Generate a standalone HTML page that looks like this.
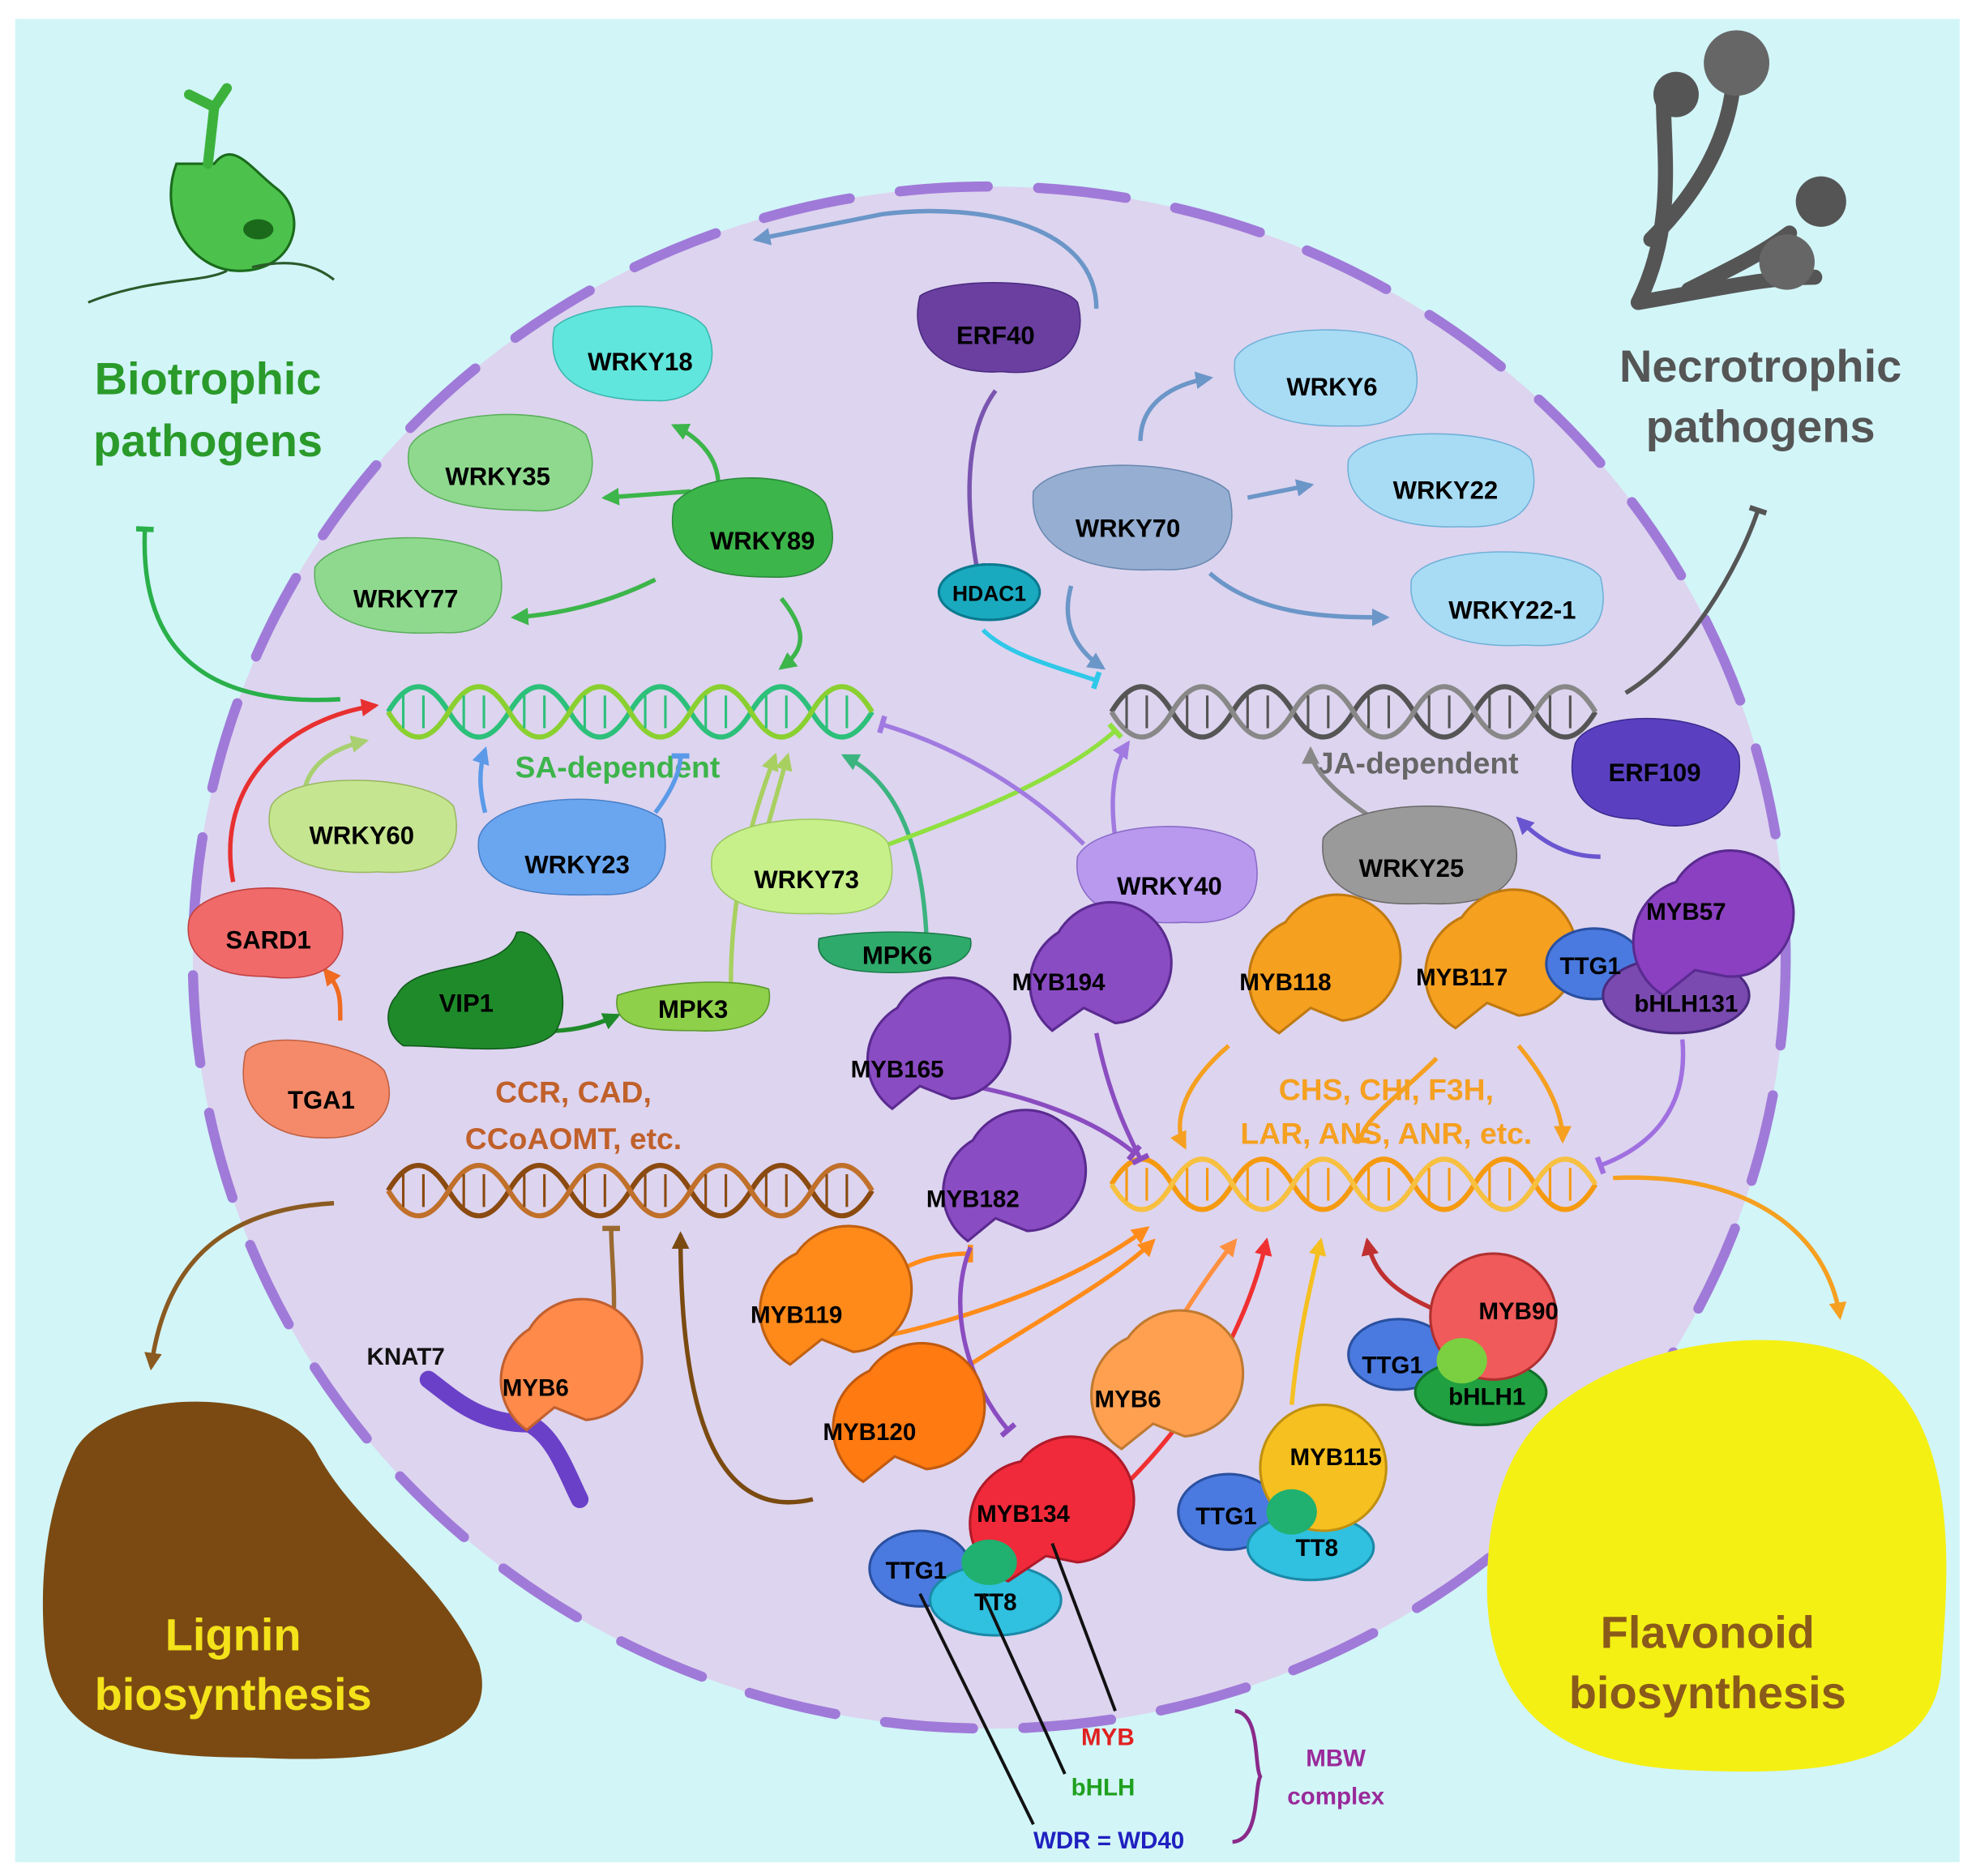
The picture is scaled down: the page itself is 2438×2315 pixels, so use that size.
<!DOCTYPE html>
<html><head><meta charset="utf-8"><style>
html,body{margin:0;padding:0;background:#fff}
svg{display:block}
text{font-family:"Liberation Sans",sans-serif;font-weight:bold}
</style></head><body>
<svg width="2438" height="2315" viewBox="0 0 1568 1489" preserveAspectRatio="none" xmlns="http://www.w3.org/2000/svg">
<defs>
<marker id="a" viewBox="0 0 10 10" refX="8" refY="5" markerWidth="4" markerHeight="4" orient="auto-start-reverse"><path d="M0,0L10,5L0,10z" fill="context-stroke"/></marker>
<marker id="t" viewBox="0 0 10 10" refX="5" refY="5" markerWidth="4" markerHeight="4" orient="auto"><path d="M5,0V10" stroke="context-stroke" stroke-width="3"/></marker>
</defs>
<rect x="0" y="0" width="1568" height="1489" fill="#fff"/>
<rect x="12" y="15" width="1543" height="1463" fill="#d2f5f8"/>
<ellipse cx="785" cy="760" rx="632" ry="612" fill="#ddd4ef"/>
<ellipse cx="785" cy="760" rx="632" ry="612" fill="none" stroke="#a07ad8" stroke-width="8" stroke-dasharray="70 40" stroke-linecap="round"/>

<!-- pathogens -->
<g fill="#4cc24c" stroke="#1b6a1b" stroke-width="2">
<path d="M140,130 C125,170 150,215 190,215 C235,215 245,170 220,150 C200,135 185,110 170,130 Z"/>
<path d="M165,130 L170,85 L150,75 M170,85 L180,70" fill="none" stroke="#3cb23c" stroke-width="8" stroke-linecap="round"/>
</g>
<ellipse cx="205" cy="182" rx="12" ry="8" fill="#1b6a1b"/>
<path d="M70,240 C120,220 160,225 180,215 M200,212 C230,205 250,210 265,222" fill="none" stroke="#2a5a2a" stroke-width="2"/>
<g stroke="#555" stroke-width="12" fill="none" stroke-linecap="round">
<path d="M1300,240 C1330,180 1320,120 1320,80"/>
<path d="M1310,190 C1350,150 1370,110 1375,70"/>
<path d="M1340,230 C1380,210 1400,200 1420,185"/>
<path d="M1300,240 C1360,230 1400,220 1440,220"/>
</g>
<circle cx="1330" cy="75" r="18" fill="#555"/><circle cx="1378" cy="50" r="26" fill="#666"/><circle cx="1418" cy="208" r="22" fill="#666"/><circle cx="1445" cy="160" r="20" fill="#555"/>
<text x="165" y="313" font-size="36" fill="#2a9a2a" text-anchor="middle">Biotrophic</text>
<text x="165" y="362" font-size="36" fill="#2a9a2a" text-anchor="middle">pathogens</text>
<text x="1397" y="303" font-size="36" fill="#555" text-anchor="middle">Necrotrophic</text>
<text x="1397" y="351" font-size="36" fill="#555" text-anchor="middle">pathogens</text>

<!-- output blobs -->
<path d="M60,1150 C90,1100 220,1100 250,1150 C280,1210 350,1250 380,1320 C400,1390 300,1400 200,1395 C100,1395 40,1380 35,1300 C30,1230 45,1180 60,1150Z" fill="#7a4a12"/>
<text x="185" y="1310" font-size="36" fill="#f4e21a" text-anchor="middle">Lignin</text>
<text x="185" y="1357" font-size="36" fill="#f4e21a" text-anchor="middle">biosynthesis</text>
<path d="M1230,1120 C1300,1060 1420,1050 1480,1080 C1560,1130 1545,1260 1540,1330 C1530,1400 1450,1410 1340,1405 C1220,1400 1180,1340 1180,1260 C1180,1200 1195,1150 1230,1120Z" fill="#f4f014"/>
<text x="1355" y="1308" font-size="36" fill="#8a5a1a" text-anchor="middle">Flavonoid</text>
<text x="1355" y="1356" font-size="36" fill="#8a5a1a" text-anchor="middle">biosynthesis</text>

<!-- DNA helper drawn inline -->
<g fill="none" stroke-width="4">
<g stroke="#2cc07a"><path d="M308,565 q24,-40 48,0 t48,0 t48,0 t48,0 t48,0 t48,0 t48,0 t48,0"/><path d="M308,565 q24,40 48,0 t48,0 t48,0 t48,0 t48,0 t48,0 t48,0 t48,0" stroke="#8ad030"/><path d="M320,552 V578 M336,552V578 M368,552V578 M384,552V578 M416,552V578 M432,552V578 M464,552V578 M480,552V578 M512,552V578 M528,552V578 M560,552V578 M576,552V578 M608,552V578 M624,552V578 M656,552V578 M672,552V578" stroke-width="2"/></g>
<g stroke="#555"><path d="M882,565 q24,-40 48,0 t48,0 t48,0 t48,0 t48,0 t48,0 t48,0 t48,0"/><path d="M882,565 q24,40 48,0 t48,0 t48,0 t48,0 t48,0 t48,0 t48,0 t48,0" stroke="#888"/><path d="M894,552V578 M910,552V578 M942,552V578 M958,552V578 M990,552V578 M1006,552V578 M1038,552V578 M1054,552V578 M1086,552V578 M1102,552V578 M1134,552V578 M1150,552V578 M1182,552V578 M1198,552V578 M1230,552V578 M1246,552V578" stroke-width="2"/></g>
<g stroke="#8a4a10"><path d="M308,945 q24,-40 48,0 t48,0 t48,0 t48,0 t48,0 t48,0 t48,0 t48,0"/><path d="M308,945 q24,40 48,0 t48,0 t48,0 t48,0 t48,0 t48,0 t48,0 t48,0" stroke="#c0702a"/><path d="M320,932V958 M336,932V958 M368,932V958 M384,932V958 M416,932V958 M432,932V958 M464,932V958 M480,932V958 M512,932V958 M528,932V958 M560,932V958 M576,932V958 M608,932V958 M624,932V958 M656,932V958 M672,932V958" stroke-width="2"/></g>
<g stroke="#f59a10"><path d="M882,940 q24,-40 48,0 t48,0 t48,0 t48,0 t48,0 t48,0 t48,0 t48,0"/><path d="M882,940 q24,40 48,0 t48,0 t48,0 t48,0 t48,0 t48,0 t48,0 t48,0" stroke="#f7c040"/><path d="M894,927V953 M910,927V953 M942,927V953 M958,927V953 M990,927V953 M1006,927V953 M1038,927V953 M1054,927V953 M1086,927V953 M1102,927V953 M1134,927V953 M1150,927V953 M1182,927V953 M1198,927V953 M1230,927V953 M1246,927V953" stroke-width="2"/></g>
</g>
<text x="490" y="617" font-size="24" fill="#3cb44a" text-anchor="middle">SA-dependent</text>
<text x="1125" y="614" font-size="24" fill="#666" text-anchor="middle">JA-dependent</text>
<text x="455" y="875" font-size="24" fill="#c0602a" text-anchor="middle">CCR, CAD,</text>
<text x="455" y="912" font-size="24" fill="#c0602a" text-anchor="middle">CCoAOMT, etc.</text>
<text x="1100" y="873" font-size="24" fill="#f5a020" text-anchor="middle">CHS, CHI, F3H,</text>
<text x="1100" y="908" font-size="24" fill="#f5a020" text-anchor="middle">LAR, ANS, ANR, etc.</text>

<!-- connectors -->
<g fill="none" stroke-width="3.5">
<path d="M870,245 C870,180 780,160 700,170 L600,190" stroke="#6b96c8" marker-end="url(#a)"/>
<path d="M905,350 C905,320 930,305 960,300" stroke="#6b96c8" marker-end="url(#a)"/>
<path d="M990,395 L1040,385" stroke="#6b96c8" marker-end="url(#a)"/>
<path d="M960,455 C1000,490 1060,490 1100,490" stroke="#6b96c8" marker-end="url(#a)"/>
<path d="M850,465 C840,500 860,520 875,530" stroke="#6b96c8" marker-end="url(#a)"/>
<path d="M790,310 C760,350 770,420 775,450" stroke="#7a55b0" marker-end="url(#t)"/>
<path d="M780,500 C800,520 840,530 870,540" stroke="#30c8e8" marker-end="url(#t)"/>
<path d="M570,385 C570,360 550,345 535,338" stroke="#3cb54a" marker-end="url(#a)"/>
<path d="M548,390 L480,395" stroke="#3cb54a" marker-end="url(#a)"/>
<path d="M520,460 C480,480 440,488 408,490" stroke="#3cb54a" marker-end="url(#a)"/>
<path d="M620,475 C640,500 640,515 620,530" stroke="#3cb54a" marker-end="url(#a)"/>
<path d="M115,420 C110,530 180,560 270,555" stroke="#2ab04a" marker-start="url(#t)"/>
<path d="M185,700 C170,620 230,570 298,560" stroke="#e83030" marker-end="url(#a)"/>
<path d="M240,640 C240,610 260,595 290,588" stroke="#a8d070" marker-end="url(#a)"/>
<path d="M385,645 C380,625 380,610 385,595" stroke="#5a9ae8" marker-end="url(#a)"/>
<path d="M520,645 C535,625 540,610 540,600" stroke="#5a9ae8" marker-end="url(#t)"/>
<path d="M580,780 C580,700 600,640 615,600" stroke="#a8d060" marker-end="url(#a)"/>
<path d="M608,660 L625,600" stroke="#a8d060" marker-end="url(#a)"/>
<path d="M735,740 C730,650 700,615 670,600" stroke="#3cb480" marker-end="url(#a)"/>
<path d="M700,672 C760,650 840,620 885,580" stroke="#90e040" marker-end="url(#t)"/>
<path d="M860,670 C810,620 750,590 700,575" stroke="#a07ae0" marker-end="url(#t)"/>
<path d="M885,665 C880,630 885,605 895,590" stroke="#a07ae0" marker-end="url(#a)"/>
<path d="M1090,650 C1060,630 1040,610 1040,595" stroke="#888" marker-end="url(#a)"/>
<path d="M1270,680 C1240,680 1220,665 1205,650" stroke="#6a55d0" marker-end="url(#a)"/>
<path d="M1290,550 C1340,520 1380,450 1395,405" stroke="#555" marker-end="url(#t)"/>
<path d="M270,810 C270,790 270,785 258,770" stroke="#f06a20" marker-end="url(#a)"/>
<path d="M420,818 C450,820 470,815 490,806" stroke="#1f8a2a" marker-end="url(#a)"/>
<path d="M870,820 C880,870 895,900 905,920" stroke="#8a4cc0" marker-end="url(#t)"/>
<path d="M760,860 C820,870 870,890 900,915" stroke="#8a4cc0" marker-end="url(#t)"/>
<path d="M975,830 C940,860 930,890 940,910" stroke="#f5a020" marker-end="url(#a)"/>
<path d="M1140,840 C1110,870 1080,890 1080,905" stroke="#f5a020" marker-end="url(#t)"/>
<path d="M1205,830 C1230,860 1240,885 1240,905" stroke="#f5a020" marker-end="url(#a)"/>
<path d="M1335,825 C1340,880 1310,910 1270,925" stroke="#a070e0" marker-end="url(#t)"/>
<path d="M1280,935 C1390,930 1450,980 1460,1045" stroke="#f5a020" marker-end="url(#a)"/>
<path d="M265,955 C170,960 130,1010 120,1085" stroke="#8a5a20" marker-end="url(#a)"/>
<path d="M485,1075 C490,1030 485,1000 485,975" stroke="#9a6a30" marker-end="url(#t)"/>
<path d="M645,1190 C560,1210 540,1100 540,980" stroke="#7a4a10" marker-end="url(#a)"/>
<path d="M685,1040 C700,1010 730,995 770,995" stroke="#ff8c1a" marker-end="url(#t)"/>
<path d="M680,1065 C760,1050 850,1020 910,975" stroke="#ff8c1a" marker-end="url(#a)"/>
<path d="M730,1110 C800,1060 880,1020 915,985" stroke="#ff8c1a" marker-end="url(#a)"/>
<path d="M770,990 C750,1040 770,1100 800,1135" stroke="#8a4cc0" marker-end="url(#t)"/>
<path d="M920,1075 C940,1040 960,1010 980,985" stroke="#ff9040" marker-end="url(#a)"/>
<path d="M870,1200 C950,1130 990,1050 1005,985" stroke="#f03030" marker-end="url(#a)"/>
<path d="M1025,1115 C1030,1060 1040,1020 1048,985" stroke="#f5c020" marker-end="url(#a)"/>
<path d="M1140,1040 C1105,1025 1090,1010 1085,985" stroke="#c03030" marker-end="url(#a)"/>
</g>

<!-- nodes -->
<g font-size="20" text-anchor="middle">
<path d="M440,260 C460,240 540,235 560,260 C575,290 555,320 520,318 C480,318 430,310 440,260Z" fill="#60e6dc" stroke="#3ab8b0"/><text x="508" y="294">WRKY18</text>
<path d="M325,355 C340,325 440,320 465,345 C480,380 460,410 420,405 C380,405 315,400 325,355Z" fill="#8fd98f" stroke="#5ab05a"/><text x="395" y="385">WRKY35</text>
<path d="M535,400 C560,370 640,375 655,400 C670,440 655,460 610,458 C570,458 525,450 535,400Z" fill="#3cb54a" stroke="#2a8a3a"/><text x="605" y="436">WRKY89</text>
<path d="M250,450 C270,420 370,420 395,445 C405,480 390,505 350,502 C300,505 245,495 250,450Z" fill="#8fd98f" stroke="#5ab05a"/><text x="322" y="482">WRKY77</text>
<path d="M215,640 C230,610 340,615 360,640 C370,680 345,695 300,692 C250,695 205,680 215,640Z" fill="#c6e590" stroke="#9ab860"/><text x="287" y="670">WRKY60</text>
<path d="M380,665 C390,630 490,625 525,650 C535,690 520,712 475,710 C420,712 375,705 380,665Z" fill="#6aa6f0" stroke="#4a80c8"/><text x="458" y="693">WRKY23</text>
<path d="M565,680 C570,645 690,640 705,670 C715,710 700,728 650,725 C600,727 560,715 565,680Z" fill="#c8f08a" stroke="#9ac860"/><text x="640" y="705">WRKY73</text>
<path d="M150,730 C160,700 250,695 270,725 C280,770 250,780 210,775 C170,775 145,760 150,730Z" fill="#f06a6a" stroke="#c04040"/><text x="213" y="753">SARD1</text>
<path d="M315,790 C330,760 400,775 410,740 C430,735 460,790 440,820 C420,840 360,830 320,830 C305,820 305,800 315,790Z" fill="#1f8a2a" stroke="#0f5a1a"/><text x="370" y="803">VIP1</text>
<path d="M490,790 C520,780 580,775 610,785 C615,810 590,820 550,818 C510,818 485,815 490,790Z" fill="#8fd04a" stroke="#5a9a2a"/><text x="550" y="808">MPK3</text>
<path d="M650,745 C680,738 740,738 770,745 C775,765 740,772 710,772 C675,772 645,768 650,745Z" fill="#2eaa6a" stroke="#1a7a4a"/><text x="712" y="765">MPK6</text>
<path d="M195,835 C210,815 290,830 305,850 C320,885 290,905 255,903 C215,903 185,880 195,835Z" fill="#f48a6a" stroke="#c06040"/><text x="255" y="880">TGA1</text>
<path d="M730,235 C750,220 840,220 855,240 C865,275 840,300 795,295 C750,298 720,275 730,235Z" fill="#6a3fa0" stroke="#4a2a80"/><text x="790" y="273">ERF40</text>
<ellipse cx="785" cy="470" rx="40" ry="22" fill="#1aaac0" stroke="#0a7a90" stroke-width="2"/><text x="785" y="477" font-size="17">HDAC1</text>
<path d="M820,390 C840,360 950,365 975,390 C985,430 965,455 920,452 C870,455 815,440 820,390Z" fill="#95aed2" stroke="#6a88b0"/><text x="895" y="426">WRKY70</text>
<path d="M980,285 C995,255 1100,255 1120,280 C1135,320 1110,340 1070,338 C1020,340 975,325 980,285Z" fill="#a8dcf4" stroke="#70b0d8"/><text x="1057" y="314">WRKY6</text>
<path d="M1070,365 C1085,335 1200,340 1215,365 C1225,405 1200,420 1160,418 C1110,420 1065,405 1070,365Z" fill="#a8dcf4" stroke="#70b0d8"/><text x="1147" y="396">WRKY22</text>
<path d="M1120,460 C1135,430 1250,432 1270,458 C1280,500 1255,515 1210,512 C1160,515 1115,500 1120,460Z" fill="#a8dcf4" stroke="#70b0d8"/><text x="1200" y="491">WRKY22-1</text>
<path d="M1250,590 C1265,560 1370,565 1380,600 C1385,650 1340,665 1300,650 C1260,650 1240,630 1250,590Z" fill="#5a40c0" stroke="#3a2a90"/><text x="1313" y="620">ERF109</text>
<path d="M1050,665 C1070,635 1180,630 1200,660 C1215,705 1180,720 1130,717 C1080,720 1045,705 1050,665Z" fill="#9a9a9a" stroke="#6a6a6a"/><text x="1120" y="696">WRKY25</text>
<path d="M855,680 C870,650 970,648 995,675 C1005,715 985,735 940,732 C890,735 850,720 855,680Z" fill="#b899ee" stroke="#8a6ac8"/><text x="928" y="710">WRKY40</text>
</g>

<!-- MYB pacman shapes -->
<g font-size="19" text-anchor="middle" stroke-width="2">
<path d="M840,740 A48,48 0 1 1 885,812 L860,800 L835,818 A48,48 0 0 1 840,740Z" fill="#8a4cc2" stroke="#5a2a90"/><text x="840" y="786">MYB194</text>
<path d="M1020,732 A50,50 0 1 1 1065,810 L1040,800 L1015,820 A50,50 0 0 1 1020,732Z" fill="#f6a020" stroke="#c07a10"/><text x="1020" y="786">MYB118</text>
<path d="M1160,728 A50,50 0 1 1 1205,806 L1180,796 L1155,816 A50,50 0 0 1 1160,728Z" fill="#f6a020" stroke="#c07a10"/><text x="1160" y="782">MYB117</text>
<path d="M712,800 A48,48 0 1 1 755,872 L730,862 L708,880 A48,48 0 0 1 712,800Z" fill="#8a4cc2" stroke="#5a2a90"/><text x="712" y="855">MYB165</text>
<path d="M772,905 A48,48 0 1 1 815,977 L790,967 L768,985 A48,48 0 0 1 772,905Z" fill="#8a4cc2" stroke="#5a2a90"/><text x="772" y="958">MYB182</text>
<path d="M632,995 A50,50 0 1 1 677,1073 L652,1063 L627,1083 A50,50 0 0 1 632,995Z" fill="#ff8a1a" stroke="#c06010"/><text x="632" y="1050">MYB119</text>
<path d="M690,1088 A50,50 0 1 1 735,1166 L710,1156 L685,1176 A50,50 0 0 1 690,1088Z" fill="#ff7a10" stroke="#c05a10"/><text x="690" y="1143">MYB120</text>
<path d="M895,1062 A50,50 0 1 1 940,1140 L915,1130 L890,1150 A50,50 0 0 1 895,1062Z" fill="#ffa050" stroke="#c07a30"/><text x="895" y="1117">MYB6</text>
<path d="M340,1095 C360,1110 380,1130 420,1130 C440,1140 450,1170 460,1190" fill="none" stroke="#6a40c8" stroke-width="14" stroke-linecap="round"/>
<path d="M420,1055 A48,48 0 1 1 465,1127 L440,1117 L418,1135 A48,48 0 0 1 420,1055Z" fill="#ff8a4a" stroke="#c06030"/><text x="425" y="1108">MYB6</text>
<text x="322" y="1083" font-size="19" fill="#111">KNAT7</text>
<!-- MYB57 complex -->
<ellipse cx="1265" cy="765" rx="38" ry="28" fill="#4a7ae0" stroke="#2a50a0"/>
<ellipse cx="1330" cy="790" rx="58" ry="30" fill="#7a4ab0" stroke="#4a2a80"/>
<path d="M1330,700 A50,50 0 1 1 1370,775 L1345,770 L1320,790 A50,50 0 0 1 1330,700Z" fill="#8a40c0" stroke="#5a2a90"/>
<text x="1338" y="730">MYB57</text><text x="1262" y="773">TTG1</text><text x="1338" y="803">bHLH131</text>
<!-- MYB90 complex -->
<ellipse cx="1110" cy="1075" rx="40" ry="28" fill="#4a7ae0" stroke="#2a50a0"/>
<ellipse cx="1175" cy="1105" rx="52" ry="26" fill="#20a040" stroke="#10702a"/>
<circle cx="1185" cy="1045" r="50" fill="#f05a5a" stroke="#b03030"/>
<ellipse cx="1160" cy="1080" rx="20" ry="18" fill="#7ad040"/>
<text x="1205" y="1047">MYB90</text><text x="1105" y="1090">TTG1</text><text x="1180" y="1115">bHLH1</text>
<!-- MYB115 -->
<ellipse cx="975" cy="1200" rx="40" ry="30" fill="#4a7ae0" stroke="#2a50a0"/>
<ellipse cx="1040" cy="1228" rx="50" ry="26" fill="#30c0e0" stroke="#1a8aa8"/>
<circle cx="1050" cy="1165" r="50" fill="#f6c020" stroke="#c09010"/>
<ellipse cx="1025" cy="1200" rx="20" ry="18" fill="#20b070"/>
<text x="1060" y="1163">MYB115</text><text x="973" y="1210">TTG1</text><text x="1045" y="1235">TT8</text>
<!-- MYB134 -->
<ellipse cx="730" cy="1245" rx="40" ry="30" fill="#4a7ae0" stroke="#2a50a0"/>
<ellipse cx="790" cy="1270" rx="52" ry="28" fill="#30c0e0" stroke="#1a8aa8"/>
<path d="M810,1160 A50,50 0 1 1 855,1240 L830,1235 L800,1255 A50,50 0 0 1 810,1160Z" fill="#f02a3a" stroke="#b01a2a"/>
<ellipse cx="785" cy="1240" rx="22" ry="18" fill="#20b070"/>
<text x="812" y="1208">MYB134</text><text x="727" y="1253">TTG1</text><text x="790" y="1278">TT8</text>
</g>
<g stroke="#111" stroke-width="2.5" fill="none">
<path d="M835,1225 L885,1358"/><path d="M780,1265 L845,1408"/><path d="M730,1265 L820,1448"/>
</g>
<g font-size="19">
<text x="858" y="1385" fill="#e02020">MYB</text>
<text x="850" y="1425" fill="#20a020">bHLH</text>
<text x="820" y="1467" fill="#2020c0">WDR = WD40</text>
<path d="M980,1358 C1000,1360 995,1400 1000,1410 C995,1420 1000,1460 978,1462" fill="none" stroke="#8a2a8a" stroke-width="3"/>
<text x="1060" y="1402" fill="#9a2a9a" text-anchor="middle">MBW</text>
<text x="1060" y="1432" fill="#9a2a9a" text-anchor="middle">complex</text>
</g>
</svg>
</body></html>
